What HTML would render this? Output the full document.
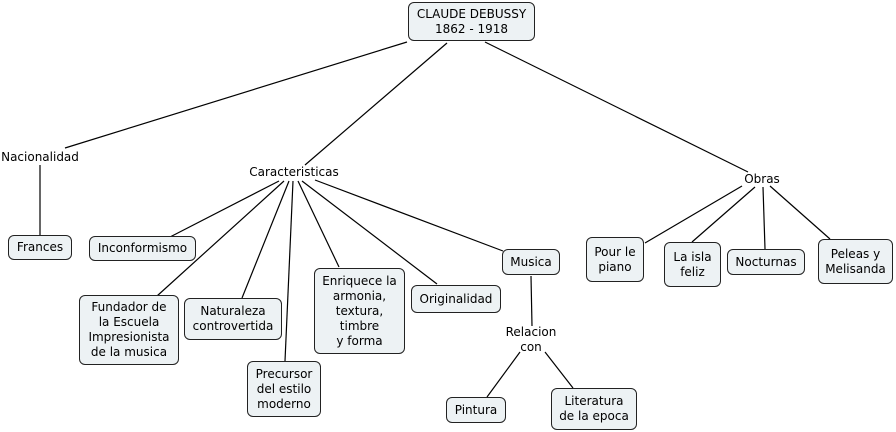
<!DOCTYPE html>
<html><head><meta charset="utf-8"><style>
body{margin:0;width:896px;height:432px;background:#fff;position:relative;overflow:hidden;font-family:"DejaVu Sans","Liberation Sans",sans-serif;font-size:12px;color:#000}
.b{position:absolute;box-sizing:border-box;border:1px solid #222;border-radius:6px;background:#edf2f4;display:flex;align-items:center;justify-content:center;text-align:center;line-height:15px}
.t{position:absolute;text-align:center;line-height:15px;transform:translateX(-50%);white-space:nowrap}
svg{position:absolute;left:0;top:0}
</style></head><body>
<svg width="896" height="432" stroke="#000" stroke-width="1.2" fill="none">
<line x1="407" y1="42" x2="65" y2="148"/>
<line x1="447" y1="43" x2="305" y2="165"/>
<line x1="485" y1="42" x2="748" y2="172"/>
<line x1="40" y1="165" x2="40" y2="235"/>
<line x1="279" y1="181" x2="170" y2="237"/>
<line x1="284" y1="181" x2="157" y2="296"/>
<line x1="289" y1="181" x2="242" y2="298"/>
<line x1="293" y1="181" x2="285" y2="361"/>
<line x1="298" y1="181" x2="339" y2="267"/>
<line x1="302" y1="181" x2="437" y2="284"/>
<line x1="315" y1="180" x2="503" y2="251"/>
<line x1="742" y1="186" x2="645" y2="243"/>
<line x1="755" y1="187" x2="692" y2="242"/>
<line x1="763" y1="187" x2="765" y2="249"/>
<line x1="770" y1="186" x2="830" y2="239"/>
<line x1="531" y1="276" x2="532" y2="326"/>
<line x1="520" y1="352" x2="487" y2="397"/>
<line x1="545" y1="352" x2="573" y2="388"/>
</svg>
<div class="b" style="left:408px;top:2px;width:127px;height:39px">CLAUDE DEBUSSY<br>1862 - 1918</div>
<div class="t" style="left:40px;top:150px">Nacionalidad</div>
<div class="t" style="left:294px;top:165px">Caracteristicas</div>
<div class="t" style="left:762px;top:172px">Obras</div>
<div class="b" style="left:8px;top:235px;width:64px;height:25px">Frances</div>
<div class="b" style="left:89px;top:236px;width:107px;height:25px">Inconformismo</div>
<div class="b" style="left:79px;top:295px;width:100px;height:70px">Fundador de<br>la Escuela<br>Impresionista<br>de la musica</div>
<div class="b" style="left:184px;top:298px;width:98px;height:42px">Naturaleza<br>controvertida</div>
<div class="b" style="left:247px;top:361px;width:74px;height:56px">Precursor<br>del estilo<br>moderno</div>
<div class="b" style="left:314px;top:268px;width:91px;height:86px">Enriquece la<br>armonia,<br>textura,<br>timbre<br>y forma</div>
<div class="b" style="left:411px;top:285px;width:90px;height:28px">Originalidad</div>
<div class="b" style="left:502px;top:249px;width:58px;height:26px">Musica</div>
<div class="t" style="left:531px;top:325px">Relacion<br>con</div>
<div class="b" style="left:446px;top:397px;width:60px;height:26px">Pintura</div>
<div class="b" style="left:551px;top:388px;width:86px;height:42px">Literatura<br>de la epoca</div>
<div class="b" style="left:586px;top:237px;width:58px;height:45px">Pour le<br>piano</div>
<div class="b" style="left:664px;top:242px;width:57px;height:45px">La isla<br>feliz</div>
<div class="b" style="left:727px;top:249px;width:78px;height:26px">Nocturnas</div>
<div class="b" style="left:818px;top:239px;width:75px;height:45px">Peleas y<br>Melisanda</div>
</body></html>
